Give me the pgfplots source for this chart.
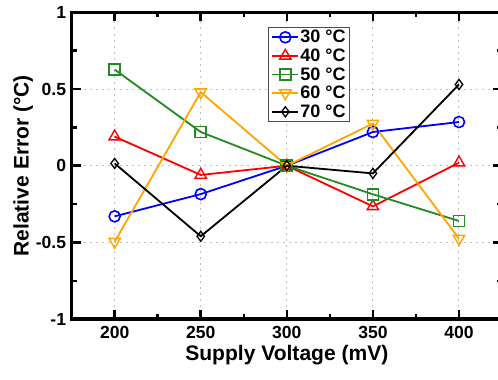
\documentclass[border=0pt]{standalone}
\usepackage{pgfplots}
\pgfplotsset{compat=1.18}
\usepackage{fontspec}
\setmainfont{Liberation Sans}
\definecolor{cblue}{RGB}{0,0,255}
\definecolor{cred}{RGB}{255,0,0}
\definecolor{cgreen}{RGB}{34,139,34}
\definecolor{corange}{RGB}{255,165,0}
\begin{document}
\begin{tikzpicture}
\begin{axis}[
  name=ax,
  scale only axis,
  width=428bp, height=305bp,
  xmin=175, xmax=425, ymin=-1, ymax=1,
  xtick={200,250,300,350,400},
  xticklabels={200,250,300,350,400},
  ytick={-1,-0.5,0,0.5,1},
  yticklabels={-1,-0.5,0,0.5,1},
  minor xtick={225,275,325,375},
  minor ytick={-0.75,-0.25,0.25,0.75},
  tick align=inside,
  major tick length=9bp,
  minor tick length=5bp,
  every tick/.style={black, line width=2.5bp},
  axis line style={line width=3.5bp},
  grid=major,
  major grid style={gray!50, line width=1bp, dash pattern=on 2bp off 4bp},
  ticklabel style={font=\fontsize{17.5}{20}\selectfont\bfseries},
  xticklabel style={yshift=-4bp},
  yticklabel style={xshift=-2bp},
  xlabel={Supply Voltage (mV)},
  ylabel={Relative Error (°C)},
  label style={font=\fontsize{21}{24}\selectfont\bfseries},
  xlabel style={yshift=1bp},
  ylabel style={yshift=-4bp},
  legend style={at={(0.456,0.953)}, anchor=north west, draw=black!70, line width=0.9bp,
    font=\fontsize{18}{19}\selectfont\bfseries, inner xsep=3bp, inner ysep=2bp,
    row sep=2.5bp, nodes={inner sep=1bp}},
  legend image code/.code={\draw[mark repeat=2,mark phase=2] plot coordinates {(0bp,0bp) (13bp,0bp) (26bp,0bp)};},
  legend cell align=left,
  every axis plot/.append style={line width=1.8bp},
]
\addplot[cblue, mark=o, mark size=5.5bp, mark options={solid, line width=1.6bp}]
  coordinates {(200,-0.33) (250,-0.185) (300,0) (350,0.22) (400,0.285)};
\addlegendentry{30 °C}
\addplot[cred, mark=triangle, mark size=6.5bp, mark options={solid, line width=1.4bp}]
  coordinates {(200,0.19) (250,-0.06) (300,0) (350,-0.265) (400,0.02)};
\addlegendentry{40 °C}
\addplot[cgreen, mark=square, mark size=5.5bp, mark options={solid, line width=1.6bp}]
  coordinates {(200,0.627) (250,0.22) (300,0) (350,-0.186) (400,-0.36)};
\addlegendentry{50 °C}
\addplot[corange, mark=triangle, mark size=6.5bp, mark options={solid, rotate=180, line width=1.4bp}]
  coordinates {(200,-0.495) (250,0.48) (300,0) (350,0.275) (400,-0.475)};
\addlegendentry{60 °C}
\addplot[black, mark=diamond, mark size=5bp, mark options={solid, line width=1.3bp, fill=white}]
  coordinates {(200,0.015) (250,-0.46) (300,0) (350,-0.05) (400,0.53)};
\addlegendentry{70 °C}
\end{axis}
\coordinate (BL) at ([xshift=-10bp,yshift=-11bp]ax.outer south west);
\coordinate (TR) at ([xshift=-4bp]ax.north east);
\coordinate (TT) at ([yshift=3bp]ax.outer north east);
\pgfresetboundingbox
\path (BL) rectangle (TR |- TT);
\end{tikzpicture}
\end{document}
